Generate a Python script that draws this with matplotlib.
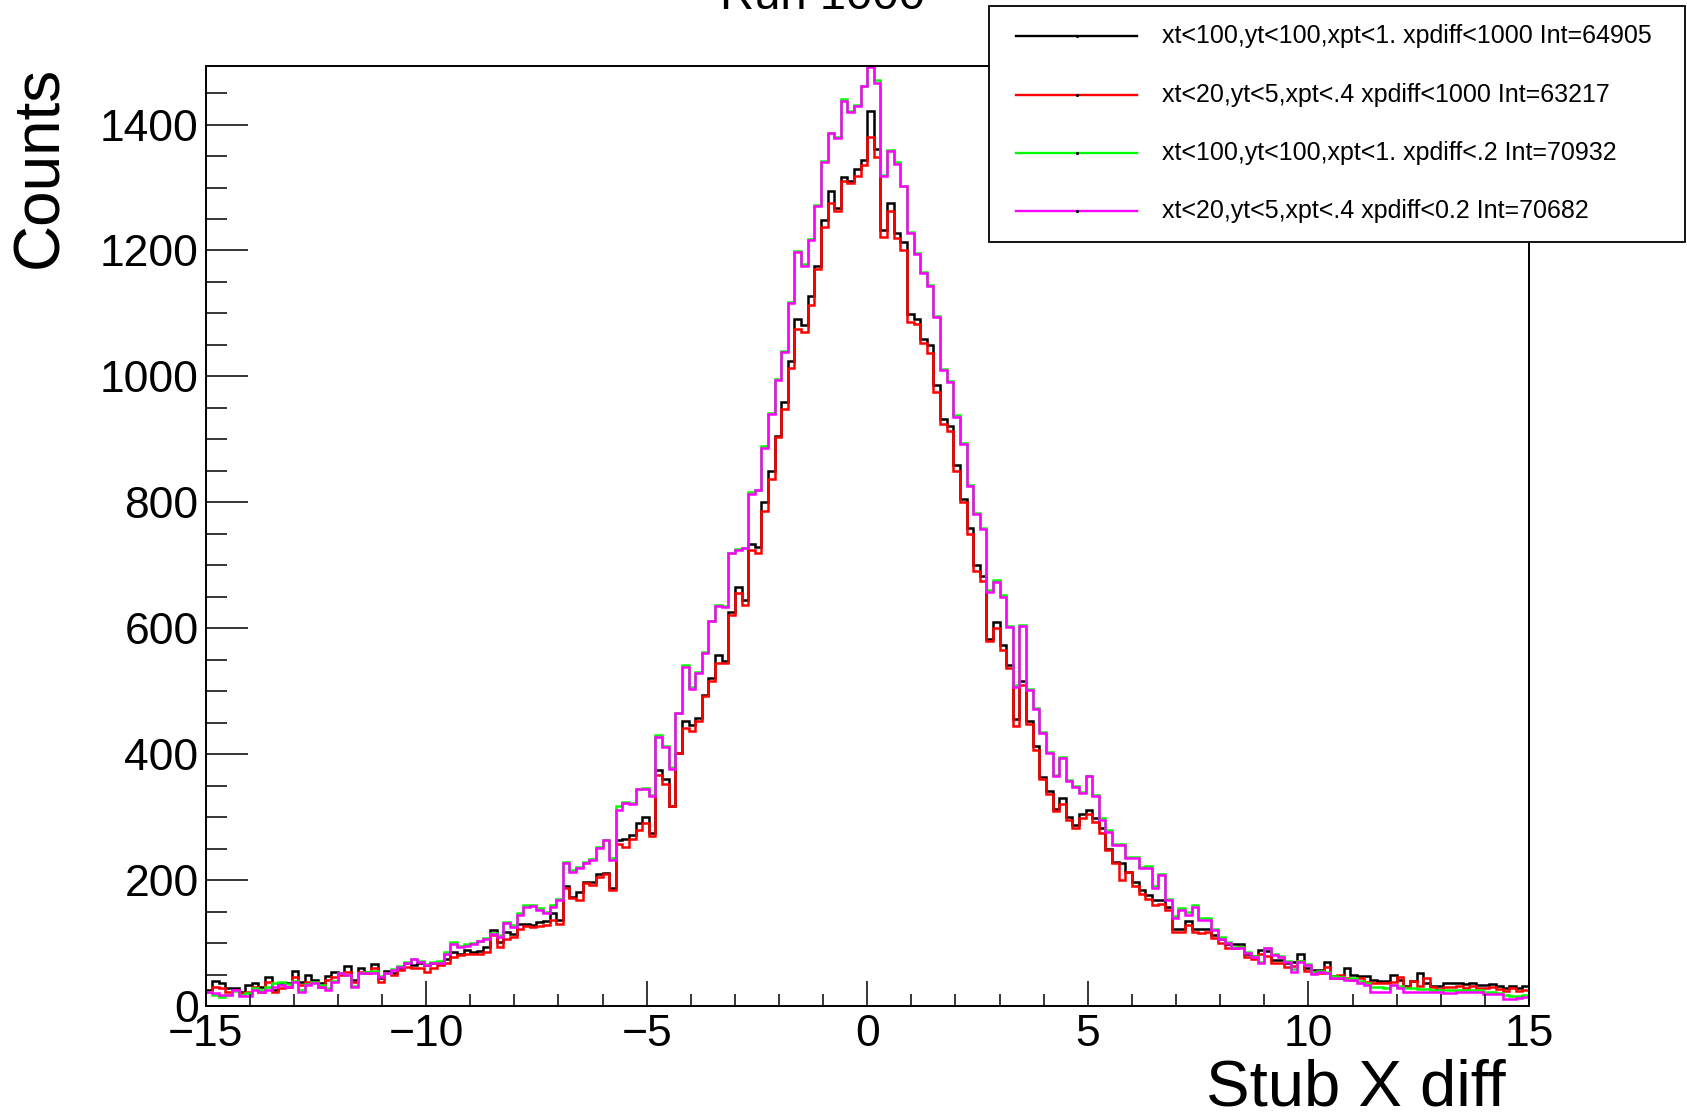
import numpy as np
import matplotlib
matplotlib.use('Agg')
import matplotlib.pyplot as plt
from matplotlib.patches import Rectangle
from matplotlib.lines import Line2D

plt.rcParams['font.family'] = ['Liberation Sans', 'DejaVu Sans']

#-----------------------
# Data (200 bins, -15..15)
#-----------------------

XMIN, XMAX, NBINS = -15, 15, 200

labels = ['xt<100,yt<100,xpt<1. xpdiff<1000 Int=64905',
          'xt<20,yt<5,xpt<.4 xpdiff<1000 Int=63217',
          'xt<100,yt<100,xpt<1. xpdiff<.2 Int=70932',
          'xt<20,yt<5,xpt<.4 xpdiff<0.2 Int=70682']

h_black = [25, 40, 36, 28, 28, 22, 33, 37, 30, 46, 26, 37, 36, 56, 38, 49, 41, 37, 47, 54,
           52, 63, 41, 61, 54, 66, 44, 56, 52, 60, 68, 65, 68, 65, 68, 69, 75, 86, 83, 89,
           86, 88, 94, 121, 102, 118, 115, 131, 131, 128, 134, 135, 148, 136, 190, 173, 181, 197, 197, 209,
           211, 187, 264, 266, 272, 290, 300, 275, 375, 361, 317, 402, 452, 447, 457, 494, 521, 558, 548, 625,
           665, 645, 733, 729, 801, 850, 906, 959, 1024, 1091, 1081, 1128, 1176, 1248, 1294, 1267, 1316, 1311, 1330, 1343,
           1422, 1361, 1232, 1275, 1228, 1214, 1099, 1091, 1060, 1050, 986, 933, 922, 860, 806, 760, 700, 683, 583, 610,
           573, 542, 456, 516, 452, 413, 363, 342, 313, 331, 300, 288, 305, 312, 298, 282, 250, 229, 227, 213,
           197, 184, 176, 168, 168, 158, 123, 123, 135, 122, 122, 123, 113, 107, 98, 98, 99, 83, 79, 89,
           88, 73, 73, 68, 70, 83, 60, 57, 57, 70, 47, 44, 60, 49, 47, 47, 41, 39, 39, 49,
           41, 31, 39, 53, 37, 31, 31, 37, 37, 37, 35, 37, 33, 33, 35, 32, 28, 32, 28, 31]

h_red = [22, 30, 28, 22, 26, 20, 22, 30, 22, 38, 22, 28, 30, 46, 33, 38, 38, 30, 41, 46,
         49, 54, 38, 54, 52, 60, 38, 52, 49, 57, 62, 60, 60, 54, 60, 65, 68, 78, 81, 82,
         82, 83, 85, 113, 94, 106, 110, 123, 127, 125, 127, 128, 136, 130, 188, 171, 168, 195, 192, 205,
         210, 184, 258, 253, 266, 280, 290, 270, 367, 352, 317, 402, 442, 437, 452, 493, 516, 544, 544, 621,
         656, 637, 725, 719, 787, 837, 903, 949, 1014, 1076, 1070, 1114, 1171, 1238, 1276, 1262, 1311, 1307, 1318, 1335,
         1380, 1349, 1222, 1263, 1220, 1201, 1087, 1084, 1053, 1037, 976, 924, 914, 850, 801, 750, 691, 675, 579, 601,
         565, 537, 444, 510, 448, 406, 360, 336, 310, 321, 295, 283, 298, 305, 292, 274, 248, 227, 200, 213,
         190, 178, 170, 160, 162, 152, 118, 118, 128, 118, 116, 118, 108, 100, 92, 92, 94, 78, 74, 82,
         80, 68, 68, 62, 64, 72, 55, 52, 52, 62, 44, 50, 44, 41, 44, 38, 36, 36, 36, 38,
         46, 30, 40, 32, 45, 30, 27, 30, 30, 32, 28, 32, 28, 28, 30, 27, 24, 28, 24, 25]

h_green = [22, 18, 15, 17, 24, 18, 20, 28, 25, 30, 36, 38, 35, 40, 26, 35, 38, 33, 28, 40,
           52, 50, 32, 52, 54, 55, 48, 52, 58, 64, 70, 74, 72, 66, 70, 72, 86, 101, 96, 98,
           100, 104, 108, 116, 113, 133, 128, 147, 160, 161, 155, 150, 160, 170, 228, 216, 220, 229, 234, 253,
           264, 235, 318, 324, 322, 345, 346, 335, 430, 413, 379, 466, 542, 506, 531, 562, 612, 637, 636, 720,
           726, 728, 816, 820, 889, 942, 996, 1041, 1118, 1199, 1178, 1218, 1272, 1342, 1387, 1380, 1440, 1421, 1431, 1462,
           1493, 1470, 1320, 1359, 1340, 1303, 1230, 1196, 1166, 1145, 1096, 1012, 993, 938, 894, 828, 783, 760, 660, 676,
           652, 603, 510, 605, 503, 473, 435, 404, 367, 395, 359, 350, 340, 366, 335, 298, 279, 258, 258, 237,
           236, 221, 222, 190, 209, 170, 143, 156, 149, 160, 140, 139, 123, 110, 102, 94, 93, 86, 80, 70,
           92, 82, 80, 72, 58, 72, 66, 54, 56, 54, 47, 46, 43, 44, 40, 36, 30, 30, 28, 33,
           31, 28, 28, 27, 27, 26, 26, 25, 25, 26, 26, 25, 25, 23, 22, 21, 17, 16, 16, 18]

h_magenta = [22, 20, 17, 17, 26, 16, 16, 25, 22, 25, 30, 33, 30, 38, 22, 33, 37, 30, 25, 38,
             52, 49, 30, 52, 52, 53, 46, 52, 57, 62, 68, 74, 70, 65, 68, 69, 82, 99, 94, 95,
             99, 103, 106, 115, 110, 132, 126, 144, 157, 159, 153, 148, 158, 168, 227, 213, 219, 227, 232, 251,
             263, 232, 311, 322, 321, 344, 344, 334, 427, 411, 377, 465, 539, 504, 529, 560, 611, 635, 633, 719,
             724, 727, 814, 819, 887, 940, 995, 1039, 1117, 1198, 1176, 1217, 1271, 1340, 1386, 1378, 1438, 1420, 1430, 1461,
             1492, 1466, 1318, 1358, 1338, 1302, 1228, 1195, 1164, 1144, 1094, 1010, 991, 936, 893, 826, 781, 758, 658, 674,
             650, 602, 506, 604, 502, 471, 433, 402, 365, 394, 357, 348, 339, 365, 333, 296, 277, 256, 256, 235,
             235, 219, 219, 187, 208, 168, 139, 152, 145, 158, 137, 137, 121, 107, 100, 92, 92, 84, 78, 68,
             92, 81, 78, 70, 54, 70, 65, 51, 54, 52, 44, 44, 41, 41, 36, 33, 23, 23, 23, 33,
             28, 23, 23, 23, 23, 23, 23, 20, 20, 23, 23, 23, 23, 19, 19, 19, 11, 11, 13, 15]

colors = ['#000000', '#ff0000', '#00ff00', '#ff00ff']
hists = [h_black, h_red, h_green, h_magenta]

#-----------------------
# Plot
#-----------------------

W, H = 1687, 1116
fig = plt.figure(figsize=(W/100., H/100.), dpi=100)
ax = fig.add_axes([205.5/W, 1-1006./H, (1529-205.5)/W, (1006.-66)/H])

edges = np.linspace(XMIN, XMAX, NBINS+1)
lw = 1.8
for h, c in zip(hists, colors):
    ax.stairs(h, edges, color=c, lw=lw, baseline=None)

ax.set_xlim(XMIN, XMAX)
ax.set_ylim(0, 1493)

ax.set_xticks(np.arange(-15, 16, 5))
ax.set_xticks(np.arange(-15, 16, 1), minor=True)
ax.set_yticks(np.arange(0, 1401, 200))
ax.set_yticks(np.arange(0, 1451, 50), minor=True)
ax.set_xticklabels(['\u221215', '\u221210', '\u22125', '0', '5', '10', '15'])

fs = 32
ax.tick_params(axis='x', which='major', direction='in', length=18, width=1.1, labelsize=fs, pad=6, top=False)
ax.tick_params(axis='x', which='minor', direction='in', length=9, width=1.1, top=False)
ax.tick_params(axis='y', which='major', direction='in', length=30, width=1.1, labelsize=fs, pad=5, right=False)
ax.tick_params(axis='y', which='minor', direction='in', length=15, width=1.1, right=False)
for s in ax.spines.values():
    s.set_linewidth(1.4)

### Axis titles, ROOT style
fig.text(1506./W, 0.009, 'Stub X diff', fontsize=47, ha='right', va='baseline')
fig.text(0.024, 1-66./H, 'Counts', fontsize=46, rotation=90, ha='center', va='top')
fig.text(823./W, 1-9./H, 'Run 1000', fontsize=34, ha='center', va='baseline')

### Legend box
lx0, lx1 = 989./W, 1685./W
ly0, ly1 = 1-242./H, 1-5.5/H
fig.patches.append(Rectangle((lx0, ly0), lx1-lx0, ly1-ly0, transform=fig.transFigure,
                             facecolor='white', edgecolor='black', lw=1.3, zorder=5))
rows = [35.5, 94.7, 152.8, 210.9]
for yy, c, lab in zip(rows, colors, labels):
    yf = 1-yy/H
    fig.lines.append(Line2D([1016./W, 1137./W], [yf, yf], transform=fig.transFigure,
                            color=c, lw=1.7, zorder=6))
    fig.lines.append(Line2D([1076.5/W], [yf], transform=fig.transFigure, color='black',
                            marker='.', ms=2.5, zorder=7))
    fig.text(1162./W, yf, lab, fontsize=18, ha='left', va='center', zorder=7)

plt.savefig('out.png', dpi=100)
